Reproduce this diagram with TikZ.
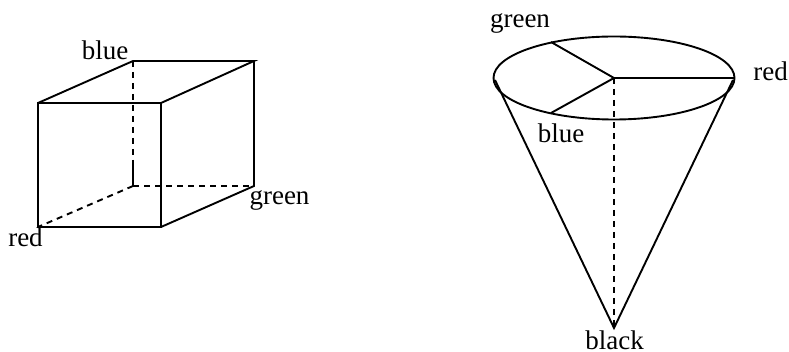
\documentclass[tikz,border=0pt]{standalone}
\usepackage{fontspec}
\setmainfont{Liberation Serif}
\tikzset{
  edgeline/.style={line width=1.9pt},
  hiddenline/.style={line width=1.9pt, dash pattern=on 6pt off 5pt},
  colorlabel/.style={font=\fontsize{27}{30}\selectfont, anchor=base, inner sep=0pt}
}
\begin{document}
\begin{tikzpicture}[x=1pt, y=-1pt]
        \useasboundingbox (0,0) rectangle (789,352);
        % Cube corners
        \coordinate (fronttl) at (38,103);
        \coordinate (fronttr) at (161,103);
        \coordinate (frontbl) at (38,227);
        \coordinate (frontbr) at (161,227);
        \coordinate (backtl) at (133,61);
        \coordinate (backtr) at (254,61);
        \coordinate (backbl) at (133,186);
        \coordinate (backbr) at (254,186);
        \coordinate (backmid) at (133,160);
        % Cube edges
        \draw[edgeline] (fronttl) -- (fronttr) -- (frontbr) -- (frontbl) -- cycle;
        \draw[edgeline] (fronttl) -- (backtl) -- (backtr) -- (fronttr);
        \draw[edgeline] (backtr) -- (backbr) -- (frontbr);
        \draw[hiddenline] (backtl) -- (backmid);
        \draw[edgeline] (backmid) -- (backbl);
        \draw[hiddenline] (backbl) -- (frontbl);
        \draw[hiddenline] (backbl) -- (backbr);
        % Cone
        \coordinate (rimc) at (614,78);
        \coordinate (rimred) at (734,78);
        \coordinate (rimgreen) at (551,42);
        \coordinate (rimblue) at (551,113);
        \coordinate (rimleft) at (495,80);
        \coordinate (rimright) at (733,80);
        \coordinate (apex) at (614,328);
        \draw[edgeline] (rimc) ellipse (120.5 and 41.5);
        \draw[edgeline] (rimc) -- (rimred);
        \draw[edgeline] (rimc) -- (rimgreen);
        \draw[edgeline] (rimc) -- (rimblue);
        \draw[edgeline] (rimleft) -- (apex) -- (rimright);
        \draw[hiddenline] (rimc) -- (apex);
        % Labels
        \node[colorlabel] (cubeblue) at (105,60) {blue};
        \node[colorlabel] (cubered) at (25.5,247) {red};
        \node[colorlabel] (cubegreen) at (279.5,205) {green};
        \node[colorlabel] (conegreen) at (520,28) {green};
        \node[colorlabel] (coneblue) at (561,143) {blue};
        \node[colorlabel] (conered) at (770.5,81) {red};
        \node[colorlabel] (coneblack) at (614.5,349) {black};
\end{tikzpicture}
\end{document}
